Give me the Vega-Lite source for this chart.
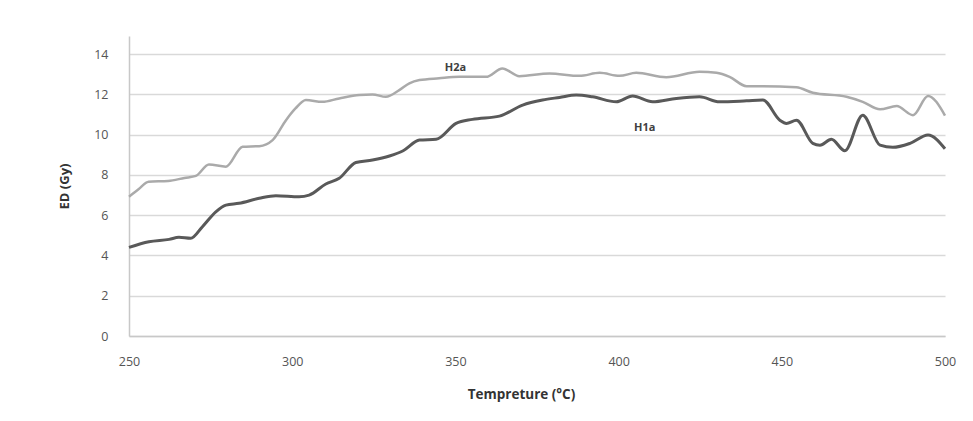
{
  "$schema": "https://vega.github.io/schema/vega-lite/v6.json",
  "autosize": {"type": "none"},
  "width": 816,
  "height": 300,
  "padding": {"left": 129, "top": 36, "right": 28, "bottom": 85},
  "background": "white",
  "config": {
    "view": {"stroke": null},
    "font": "Open Sans"
  },
  "datasets": {
    "lines": [
      {"series": "H2a", "t": 250, "ed": 6.92},
      {"series": "H2a", "t": 253, "ed": 7.3},
      {"series": "H2a", "t": 256, "ed": 7.66},
      {"series": "H2a", "t": 262, "ed": 7.7},
      {"series": "H2a", "t": 267, "ed": 7.85},
      {"series": "H2a", "t": 270.5, "ed": 7.95},
      {"series": "H2a", "t": 274.5, "ed": 8.52},
      {"series": "H2a", "t": 279.7, "ed": 8.41},
      {"series": "H2a", "t": 284.8, "ed": 9.4},
      {"series": "H2a", "t": 289.9, "ed": 9.43},
      {"series": "H2a", "t": 294, "ed": 9.73},
      {"series": "H2a", "t": 298.1, "ed": 10.72},
      {"series": "H2a", "t": 301, "ed": 11.3},
      {"series": "H2a", "t": 304.2, "ed": 11.72},
      {"series": "H2a", "t": 309.2, "ed": 11.63},
      {"series": "H2a", "t": 314.4, "ed": 11.8},
      {"series": "H2a", "t": 320.6, "ed": 11.97},
      {"series": "H2a", "t": 324.6, "ed": 12.0},
      {"series": "H2a", "t": 328.7, "ed": 11.88},
      {"series": "H2a", "t": 332.8, "ed": 12.21},
      {"series": "H2a", "t": 335.9, "ed": 12.55},
      {"series": "H2a", "t": 339, "ed": 12.71},
      {"series": "H2a", "t": 345, "ed": 12.8},
      {"series": "H2a", "t": 351.2, "ed": 12.87},
      {"series": "H2a", "t": 359.4, "ed": 12.87},
      {"series": "H2a", "t": 364.4, "ed": 13.29},
      {"series": "H2a", "t": 369.6, "ed": 12.9},
      {"series": "H2a", "t": 378.8, "ed": 13.04},
      {"series": "H2a", "t": 388, "ed": 12.92},
      {"series": "H2a", "t": 394.2, "ed": 13.07},
      {"series": "H2a", "t": 400.3, "ed": 12.92},
      {"series": "H2a", "t": 405.4, "ed": 13.07},
      {"series": "H2a", "t": 414.6, "ed": 12.85},
      {"series": "H2a", "t": 424.8, "ed": 13.12},
      {"series": "H2a", "t": 430, "ed": 13.07},
      {"series": "H2a", "t": 434, "ed": 12.87},
      {"series": "H2a", "t": 439.2, "ed": 12.41},
      {"series": "H2a", "t": 444.2, "ed": 12.41},
      {"series": "H2a", "t": 454.5, "ed": 12.35},
      {"series": "H2a", "t": 459.5, "ed": 12.08},
      {"series": "H2a", "t": 469.8, "ed": 11.88},
      {"series": "H2a", "t": 474.8, "ed": 11.63},
      {"series": "H2a", "t": 480.1, "ed": 11.26},
      {"series": "H2a", "t": 485.2, "ed": 11.42},
      {"series": "H2a", "t": 490.2, "ed": 10.97},
      {"series": "H2a", "t": 494.8, "ed": 11.92},
      {"series": "H2a", "t": 500, "ed": 10.95},
      {"series": "H1a", "t": 250, "ed": 4.4},
      {"series": "H1a", "t": 256.1, "ed": 4.68},
      {"series": "H1a", "t": 262.3, "ed": 4.8},
      {"series": "H1a", "t": 265.3, "ed": 4.9},
      {"series": "H1a", "t": 268.9, "ed": 4.85},
      {"series": "H1a", "t": 272.5, "ed": 5.43},
      {"series": "H1a", "t": 276.6, "ed": 6.17},
      {"series": "H1a", "t": 279.7, "ed": 6.5},
      {"series": "H1a", "t": 283.7, "ed": 6.59},
      {"series": "H1a", "t": 289.9, "ed": 6.84},
      {"series": "H1a", "t": 295, "ed": 6.97},
      {"series": "H1a", "t": 302.1, "ed": 6.92},
      {"series": "H1a", "t": 305.2, "ed": 7.0},
      {"series": "H1a", "t": 310.3, "ed": 7.55},
      {"series": "H1a", "t": 314.4, "ed": 7.83},
      {"series": "H1a", "t": 319.5, "ed": 8.62},
      {"series": "H1a", "t": 324.6, "ed": 8.74},
      {"series": "H1a", "t": 329.8, "ed": 8.94},
      {"series": "H1a", "t": 334, "ed": 9.2},
      {"series": "H1a", "t": 339, "ed": 9.73},
      {"series": "H1a", "t": 344.1, "ed": 9.77},
      {"series": "H1a", "t": 350.2, "ed": 10.56},
      {"series": "H1a", "t": 355.2, "ed": 10.76},
      {"series": "H1a", "t": 363.5, "ed": 10.92},
      {"series": "H1a", "t": 370.6, "ed": 11.47},
      {"series": "H1a", "t": 376.7, "ed": 11.72},
      {"series": "H1a", "t": 381.9, "ed": 11.85},
      {"series": "H1a", "t": 387, "ed": 11.97},
      {"series": "H1a", "t": 392, "ed": 11.88},
      {"series": "H1a", "t": 399.3, "ed": 11.63},
      {"series": "H1a", "t": 404.3, "ed": 11.92},
      {"series": "H1a", "t": 410.4, "ed": 11.63},
      {"series": "H1a", "t": 417.7, "ed": 11.8},
      {"series": "H1a", "t": 424.8, "ed": 11.88},
      {"series": "H1a", "t": 430.9, "ed": 11.63},
      {"series": "H1a", "t": 439.2, "ed": 11.68},
      {"series": "H1a", "t": 444.2, "ed": 11.72},
      {"series": "H1a", "t": 449.4, "ed": 10.72},
      {"series": "H1a", "t": 451.4, "ed": 10.56},
      {"series": "H1a", "t": 454.5, "ed": 10.72},
      {"series": "H1a", "t": 459.5, "ed": 9.57},
      {"series": "H1a", "t": 461.7, "ed": 9.48},
      {"series": "H1a", "t": 465.2, "ed": 9.77},
      {"series": "H1a", "t": 469.3, "ed": 9.2},
      {"series": "H1a", "t": 474.8, "ed": 10.97},
      {"series": "H1a", "t": 480.1, "ed": 9.48},
      {"series": "H1a", "t": 484, "ed": 9.37},
      {"series": "H1a", "t": 489.3, "ed": 9.57},
      {"series": "H1a", "t": 494.8, "ed": 9.98},
      {"series": "H1a", "t": 500, "ed": 9.3}
    ],
    "labels": [
      {"series": "H2a", "t": 350, "ed": 13.3},
      {"series": "H1a", "t": 408, "ed": 10.33}
    ]
  },
  "encoding": {
    "x": {
      "field": "t",
      "type": "quantitative",
      "scale": {"domain": [250, 500], "nice": false, "zero": false},
      "axis": {
        "title": "Tempreture (°C)",
        "values": [250, 300, 350, 400, 450, 500],
        "grid": false,
        "ticks": false,
        "labelFlush": false,
        "domainColor": "#c8c8c8",
        "domainWidth": 1.5,
        "labelFont": "Open Sans",
        "labelFontSize": 12.5,
        "labelColor": "#555555",
        "labelPadding": 19,
        "titleFont": "Open Sans",
        "titleFontSize": 13.5,
        "titleFontWeight": "bold",
        "titleColor": "#333333",
        "titlePadding": 20,
        "titleX": 392
      }
    },
    "y": {
      "field": "ed",
      "type": "quantitative",
      "scale": {"domain": [0, 14.9], "nice": false},
      "axis": {
        "title": "ED (Gy)",
        "values": [0, 2, 4, 6, 8, 10, 12, 14],
        "grid": true,
        "gridColor": "#d9d9d9",
        "gridWidth": 1.5,
        "ticks": false,
        "domainColor": "#c8c8c8",
        "domainWidth": 1.5,
        "labelFont": "Open Sans",
        "labelFontSize": 12.5,
        "labelColor": "#555555",
        "labelPadding": 21,
        "titleFont": "Open Sans",
        "titleFontSize": 13,
        "titleFontWeight": "bold",
        "titleColor": "#333333",
        "titlePadding": 22
      }
    }
  },
  "layer": [
    {
      "data": {"name": "lines"},
      "mark": {"type": "line", "interpolate": "monotone"},
      "encoding": {
        "detail": {"field": "series"},
        "color": {
          "field": "series",
          "type": "nominal",
          "scale": {"domain": ["H2a", "H1a"], "range": ["#aaaaaa", "#595959"]},
          "legend": null
        },
        "strokeWidth": {
          "field": "series",
          "type": "nominal",
          "scale": {"domain": ["H2a", "H1a"], "range": [2.5, 3]},
          "legend": null
        }
      }
    },
    {
      "data": {"name": "labels"},
      "mark": {"type": "text", "font": "Open Sans", "fontSize": 11, "fontWeight": "bold", "color": "#404040"},
      "encoding": {
        "text": {"field": "series"}
      }
    }
  ]
}
